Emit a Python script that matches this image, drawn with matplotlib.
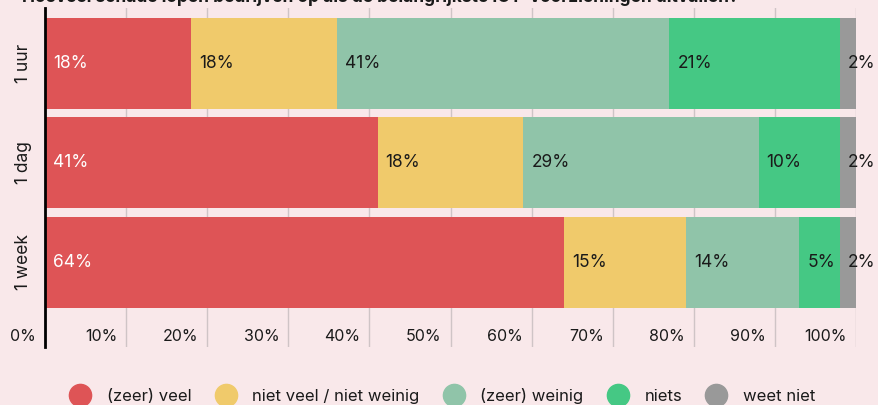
import matplotlib
matplotlib.use("Agg")
import matplotlib.pyplot as plt
import matplotlib.transforms as mtransforms
from matplotlib.lines import Line2D
import numpy as np

plt.rcParams['font.family'] = ['Inter', 'DejaVu Sans']

title = "Hoeveel schade lopen bedrijven op als de belangrijkste ICT-voorzieningen uitvallen?"
categories = ["1 uur", "1 dag", "1 week"]
series_names = ["(zeer) veel", "niet veel / niet weinig", "(zeer) weinig", "niets", "weet niet"]
values = {
    "(zeer) veel": [18, 41, 64],
    "niet veel / niet weinig": [18, 18, 15],
    "(zeer) weinig": [41, 29, 14],
    "niets": [21, 10, 5],
    "weet niet": [2, 2, 2],
}
colors = ["#de5456", "#f0ca6b", "#90c4a9", "#45c884", "#999999"]
label_colors = ["white", "#1a1a1a", "#1a1a1a", "#1a1a1a", "#1a1a1a"]
xticks = [0, 10, 20, 30, 40, 50, 60, 70, 80, 90, 100]
xticklabels = ["0%", "10%", "20%", "30%", "40%", "50%", "60%", "70%", "80%", "90%", "100%"]

bg = "#f9e8ea"
fig = plt.figure(figsize=(8.79, 4.05), dpi=100, facecolor=bg)
ax = fig.add_axes([45/879, 1 - 347/405, (856 - 45)/879, (347 - 8)/405])
ax.set_facecolor(bg)

y = np.arange(len(categories))
left = np.zeros(len(categories))
pad_tr = mtransforms.ScaledTranslation(8/100, 0, fig.dpi_scale_trans)
for name, col, lc in zip(series_names, colors, label_colors):
    vals = np.array(values[name], dtype=float)
    ax.barh(y, vals, left=left, height=0.915, color=col, zorder=2)
    for yi, (l, v) in enumerate(zip(left, vals)):
        ax.text(l, yi, f"{int(v)}%", ha="left", va="center", color=lc,
                fontsize=12.5, transform=ax.transData + pad_tr, zorder=3)
    left = left + vals

ax.set_xlim(0, 100)
ax.set_ylim(2.854, -0.558)
ax.set_xticks(xticks)
ax.set_xticklabels(xticklabels)
ax.tick_params(axis="x", length=0, pad=-13, labelsize=11.5, colors="#1a1a1a")
lab_tr = mtransforms.ScaledTranslation(-9/100, 0, fig.dpi_scale_trans)
for lbl in ax.get_xticklabels():
    lbl.set_ha("right")
    lbl.set_transform(lbl.get_transform() + lab_tr)
ax.xaxis.grid(True, color="#cfc4c6", linewidth=1, zorder=0)
ax.set_axisbelow(True)
ax.set_yticks(y)
ax.set_yticklabels(categories, rotation=90, va="center")
ax.tick_params(axis="y", length=0, pad=9, labelsize=12.5, colors="#1a1a1a")
for s in ["top", "right", "bottom"]:
    ax.spines[s].set_visible(False)
ax.spines["left"].set_color("black")
ax.spines["left"].set_linewidth(2)
ax.spines["left"].set_zorder(4)

fig.text(0.025, 1 - 2/405, title, ha="left", va="baseline", fontsize=12.5,
         fontweight="bold", color="#1a1a1a")

handles = [Line2D([0], [0], marker="o", linestyle="none", markersize=16,
                  markerfacecolor=c, markeredgecolor=c) for c in colors]
fig.legend(handles, series_names, loc="center", bbox_to_anchor=(0.5, 1 - 396/405),
           ncol=5, frameon=False, fontsize=12, handletextpad=0.6, columnspacing=1.05,
           labelcolor="#1a1a1a")

fig.savefig("out.png", dpi=100, facecolor=bg)
